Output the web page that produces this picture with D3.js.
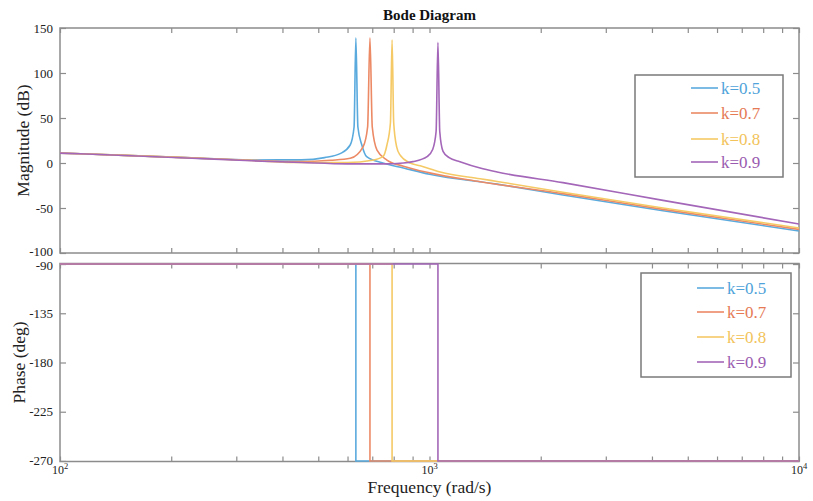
<!DOCTYPE html>
<html>
<head>
<meta charset="utf-8">
<script src="https://cdn.jsdelivr.net/npm/d3@7"></script>
<style>
  body { margin: 0; background: #fff; }
  text { font-family: "Liberation Serif", "Times New Roman", serif; }
</style>
</head>
<body>
<div class="viz-container"></div>
<script>
// legend names
let names = ["k=0.5", "k=0.7", "k=0.8", "k=0.9"];

// magnitude curves: [frequency rad/s, dB]
let magK05 = [[100,11],[150,8.5],[220,6],[330,3.4],[450,3.5],[520,6],[575,10.7],[610,20],[625,40],[632,139],
  [640,40],[656,20],[676,7],[748,0],[850,-5.5],[1000,-12.5],[1524,-23.5],[2296,-35.5],[4285,-53],[10000,-75.6]];
let magK07 = [[100,11],[150,8.5],[220,6],[330,3],[447,1.5],[540,3],[610,5.2],[661,18],[680,40],[690,139],
  [700,40],[721,14.4],[767,3.3],[850,-3.5],[1000,-11],[1371,-20.8],[2296,-34],[4285,-51.5],[10000,-73.8]];
let magK08 = [[100,11],[150,8.5],[220,5.8],[330,2.8],[447,0.5],[600,0.5],[700,3],[748,7],[767,20],[784,45],[792,137],
  [800,45],[815,18],[832,9],[886,0],[944,-3],[1069,-10],[1371,-17.5],[1524,-20.5],[2296,-32.5],[4285,-50],[10000,-72.2]];
let magK09 = [[100,11],[150,8.3],[220,5.6],[330,2.5],[450,0.5],[600,-1],[750,-1],[850,0],[902,1.5],[985,7],[1020,15],
  [1042,35],[1054,134],[1066,35],[1088,13],[1130,6],[1209,1.5],[1371,-5.6],[1524,-10],[2296,-21.8],[4285,-41.5],[10000,-67.8]];
let magData = [magK05, magK07, magK08, magK09];

// phase: -90 until the jump frequency, then -270
let jumpFreq = [632, 690, 792, 1054];
let phaseLow = -90, phaseHigh = -270;

let magTicks = [150, 100, 50, 0, -50, -100];
let phaseTicks = [-90, -135, -180, -225, -270];
let decades = [100, 1000, 10000];

let lineColors = ["#5aaade", "#ec8a66", "#f5ca66", "#a366b8"];
let textColors = ["#4fa3da", "#e57a55", "#f2c35a", "#9a5bb0"];

let W = 813, H = 501;
let left = 60, right = 799;
let magTop = 28, magBottom = 253;
let phTop = 263.5, phBottom = 461.5;

let viz = d3.select(".viz-container")
  .append("svg")
    .attr("width", W)
    .attr("height", H);

let x = d3.scaleLog().domain([100, 10000]).range([left, right]);
let yMag = d3.scaleLinear().domain([-100, 150]).range([magBottom, magTop]);
let yPh = d3.scaleLinear().domain([-270.5, -89.5]).range([phBottom, phTop]);

let minorTicks = [];
for (let d of [100, 1000]) {
  for (let m = 1; m < 10; m++) minorTicks.push(d * m);
}
minorTicks.push(10000);

// clip paths
let defs = viz.append("defs");
defs.append("clipPath").attr("id", "clipMag")
  .append("rect").attr("x", left).attr("y", magTop).attr("width", right - left).attr("height", magBottom - magTop);
defs.append("clipPath").attr("id", "clipPh")
  .append("rect").attr("x", left).attr("y", phTop - 1).attr("width", right - left).attr("height", phBottom - phTop + 2);

function drawTicks(yScale, top, bottom, yTicks, labelShift) {
  let g = viz.append("g").attr("class", "ticks");
  // bottom edge, ticks pointing up (inward)
  g.append("g")
    .attr("transform", "translate(0," + bottom + ")")
    .call(d3.axisTop(x).tickValues(minorTicks).tickSize(5).tickFormat(""));
  // top edge
  g.append("g")
    .attr("transform", "translate(0," + top + ")")
    .call(d3.axisBottom(x).tickValues(minorTicks).tickSize(5).tickFormat(""));
  g.append("g")
    .attr("transform", "translate(" + left + ",0)")
    .call(d3.axisRight(yScale).tickValues(yTicks).tickSize(6).tickFormat(""));
  g.append("g")
    .attr("transform", "translate(" + right + ",0)")
    .call(d3.axisLeft(yScale).tickValues(yTicks).tickSize(6).tickFormat(""));
  g.selectAll(".domain").remove();
  g.selectAll("line").attr("stroke", "#8c8c8c").attr("stroke-width", 1.2);

  // labels
  viz.append("g").selectAll("text").data(yTicks).enter()
    .append("text")
      .attr("x", left - 7)
      .attr("y", d => yScale(d) + 4.5 + labelShift(d))
      .attr("text-anchor", "end")
      .attr("font-size", 13)
      .attr("fill", "#222")
      .text(d => d);

  // frame
  viz.append("rect")
    .attr("x", left).attr("y", top)
    .attr("width", right - left).attr("height", bottom - top)
    .attr("fill", "none")
    .attr("stroke", "#8c8c8c")
    .attr("stroke-width", 1.5);
}

drawTicks(yMag, magTop, magBottom, magTicks, d => d == -100 ? -2 : 0);
drawTicks(yPh, phTop, phBottom, phaseTicks, d => d == -90 ? 1.5 : 0);

// magnitude curves
let magLine = d3.line()
  .x(d => x(d[0]))
  .y(d => yMag(d[1]))
  .curve(d3.curveMonotoneX);

viz.append("g").attr("clip-path", "url(#clipMag)")
  .selectAll("path").data(magData).enter()
  .append("path")
    .attr("d", magLine)
    .attr("fill", "none")
    .attr("stroke", (d, i) => lineColors[i])
    .attr("stroke-width", 1.6)
    .attr("stroke-linejoin", "round");

// phase curves
let phLine = d3.line()
  .x(d => x(d[0]))
  .y(d => yPh(d[1]));

let phaseData = jumpFreq.map(w => [[100, phaseLow], [w, phaseLow], [w, phaseHigh], [10000, phaseHigh]]);

viz.append("g").attr("clip-path", "url(#clipPh)")
  .selectAll("path").data(phaseData).enter()
  .append("path")
    .attr("d", phLine)
    .attr("fill", "none")
    .attr("stroke", (d, i) => lineColors[i])
    .attr("stroke-width", 1.6);

// legends
function legend(bx, by, bw, bh, lineX, rowY) {
  let g = viz.append("g");
  g.append("rect")
    .attr("x", bx).attr("y", by)
    .attr("width", bw).attr("height", bh)
    .attr("fill", "#fff")
    .attr("stroke", "#7a7a7a")
    .attr("stroke-width", 1.5);
  names.forEach((n, i) => {
    g.append("line")
      .attr("x1", lineX).attr("x2", lineX + 27)
      .attr("y1", rowY[i]).attr("y2", rowY[i])
      .attr("stroke", lineColors[i])
      .attr("stroke-width", 1.6);
    g.append("text")
      .attr("x", lineX + 30)
      .attr("y", rowY[i] + 6)
      .attr("font-size", 17)
      .attr("fill", textColors[i])
      .text(n);
  });
}
legend(635, 75, 148, 102, 691, [88, 113, 139, 162]);
legend(641, 273, 150, 104, 697, [288, 312, 337, 362]);

// x tick labels (10^n)
let xl = viz.append("g").selectAll("text").data(decades).enter()
  .append("text")
    .attr("x", d => x(d))
    .attr("y", 474)
    .attr("text-anchor", "middle")
    .attr("font-size", 12)
    .attr("fill", "#222");
xl.append("tspan").text("10");
xl.append("tspan").attr("dy", -5).attr("font-size", 8.5).text(d => Math.round(Math.log10(d)));

// titles
viz.append("text")
  .attr("x", (left + right) / 2)
  .attr("y", 20)
  .attr("text-anchor", "middle")
  .attr("font-size", 15)
  .attr("font-weight", "bold")
  .attr("fill", "#111")
  .text("Bode Diagram");

viz.append("text")
  .attr("x", (left + right) / 2)
  .attr("y", 493)
  .attr("text-anchor", "middle")
  .attr("font-size", 17.5)
  .attr("fill", "#222")
  .text("Frequency (rad/s)");

viz.append("text")
  .attr("transform", "translate(29," + ((magTop + magBottom) / 2) + ") rotate(-90)")
  .attr("text-anchor", "middle")
  .attr("font-size", 17.5)
  .attr("fill", "#222")
  .text("Magnitude (dB)");

viz.append("text")
  .attr("transform", "translate(25," + ((phTop + phBottom) / 2) + ") rotate(-90)")
  .attr("text-anchor", "middle")
  .attr("font-size", 17.5)
  .attr("fill", "#222")
  .text("Phase (deg)");
</script>
</body>
</html>
